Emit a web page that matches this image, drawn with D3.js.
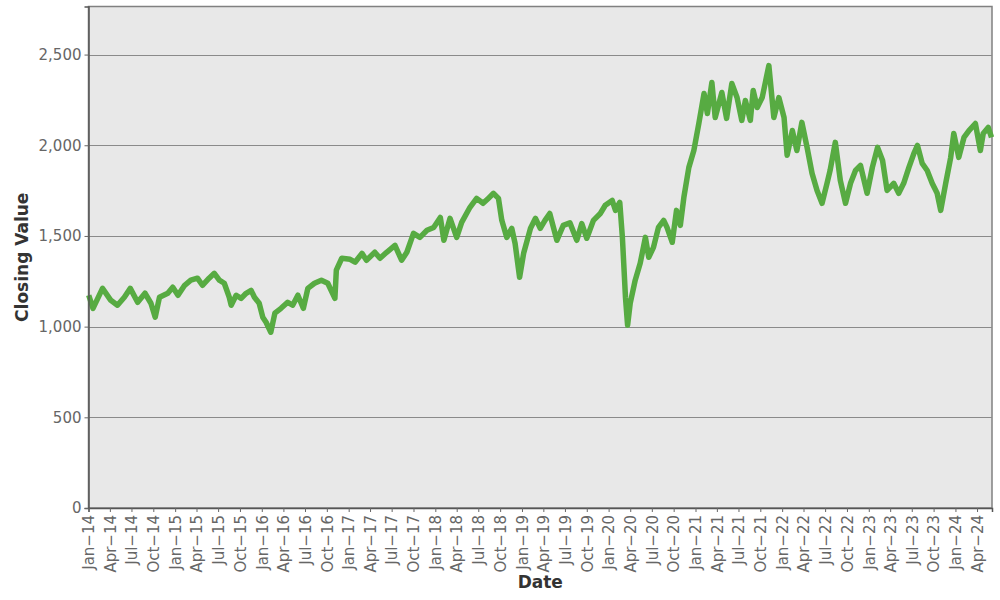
<!DOCTYPE html>
<html>
<head>
  <meta charset="UTF-8">
  <style>
      body{ margin: 0; background: #fff; }
      svg{ display: block; font-family: "DejaVu Sans", Verdana, sans-serif; }
  </style>
</head>
<body>
<svg></svg>
<script src="https://d3js.org/d3.v7.min.js"></script>

<script>

// closing values, roughly every 3 weeks plus the turning points
let dates = [
  "2014-01-02","2014-01-20","2014-03-01","2014-04-05","2014-05-03","2014-06-01","2014-06-26","2014-07-27",
  "2014-08-27","2014-09-21","2014-10-09","2014-10-27","2014-12-01","2014-12-22","2015-01-13","2015-02-10",
  "2015-03-08","2015-04-05","2015-04-26","2015-05-24","2015-06-15","2015-07-06","2015-07-27","2015-08-17",
  "2015-08-25","2015-09-15","2015-10-06","2015-10-27","2015-11-17","2015-12-01","2015-12-21","2016-01-05",
  "2016-01-19","2016-02-08","2016-02-25","2016-03-22","2016-04-19","2016-05-10","2016-06-01","2016-06-24",
  "2016-07-13","2016-08-10","2016-09-08","2016-10-05","2016-11-04","2016-11-10","2016-12-03","2017-01-07",
  "2017-01-28","2017-02-26","2017-03-17","2017-04-21","2017-05-13","2017-06-10","2017-07-15","2017-08-12",
  "2017-09-03","2017-10-01","2017-10-28","2017-11-27","2017-12-25","2018-01-22","2018-02-06","2018-03-04",
  "2018-04-01","2018-04-22","2018-05-27","2018-06-24","2018-07-21","2018-08-12","2018-09-03","2018-09-24",
  "2018-10-08","2018-10-29","2018-11-19","2018-12-03","2018-12-22","2019-01-08","2019-02-06","2019-02-27",
  "2019-03-19","2019-04-08","2019-04-28","2019-05-28","2019-06-24","2019-07-22","2019-08-20","2019-09-10",
  "2019-10-01","2019-10-29","2019-11-27","2019-12-18","2020-01-16","2020-01-30","2020-02-17","2020-02-28",
  "2020-03-12","2020-03-21","2020-04-01","2020-04-22","2020-05-13","2020-06-04","2020-06-18","2020-07-08",
  "2020-07-29","2020-08-20","2020-09-03","2020-09-25","2020-10-13","2020-10-29","2020-11-13","2020-12-04",
  "2020-12-25","2021-01-15","2021-02-06","2021-02-20","2021-03-11","2021-03-25","2021-04-22","2021-05-12",
  "2021-06-03","2021-06-25","2021-07-15","2021-07-30","2021-08-20","2021-09-01","2021-09-18","2021-10-09",
  "2021-11-06","2021-11-27","2021-12-18","2022-01-09","2022-01-22","2022-02-13","2022-03-04","2022-03-25",
  "2022-04-16","2022-05-07","2022-05-28","2022-06-18","2022-07-09","2022-07-22","2022-08-13","2022-09-03",
  "2022-09-25","2022-10-16","2022-11-06","2022-11-27","2022-12-25","2023-01-16","2023-02-07","2023-02-28",
  "2023-03-19","2023-04-16","2023-05-07","2023-05-28","2023-06-19","2023-07-10","2023-07-25","2023-08-14",
  "2023-09-04","2023-09-25","2023-10-16","2023-10-31","2023-11-21","2023-12-12","2023-12-25","2024-01-15",
  "2024-02-06","2024-02-27","2024-03-25","2024-04-15","2024-04-27","2024-05-18","2024-06-01"
];

let closing = [
  1173,1101,1211,1145,1118,1162,1211,1134,
  1184,1129,1052,1162,1184,1217,1173,1228,
  1256,1267,1228,1267,1294,1256,1239,1162,
  1118,1173,1156,1184,1200,1162,1129,1052,
  1024,969,1074,1101,1134,1118,1173,1101,
  1211,1239,1256,1239,1156,1311,1377,1371,
  1355,1404,1366,1410,1377,1410,1448,1366,
  1410,1514,1492,1531,1547,1602,1476,1597,
  1492,1575,1658,1707,1680,1707,1735,1707,
  1586,1492,1542,1459,1272,1404,1542,1597,
  1542,1586,1624,1476,1558,1572,1476,1568,
  1487,1586,1624,1669,1696,1641,1685,1492,
  1162,1008,1129,1256,1349,1492,1382,1437,
  1547,1586,1547,1465,1641,1558,1713,1878,
  1971,2120,2285,2175,2346,2153,2291,2148,
  2340,2263,2137,2247,2137,2302,2208,2263,
  2439,2153,2263,2153,1945,2081,1971,2126,
  1988,1845,1751,1680,1790,1861,2016,1806,
  1680,1790,1861,1889,1735,1878,1988,1916,
  1751,1790,1735,1790,1878,1955,1999,1900,
  1861,1790,1735,1641,1790,1933,2065,1933,
  2043,2081,2120,1971,2065,2098,2043
];

let yTicks = [0, 500, 1000, 1500, 2000, 2500];

let width = 1000, height = 600;
let plotLeft = 88.5, plotRight = 992, plotTop = 6.5, plotBottom = 508;

let svg = d3.select("svg")
    .attr("width", width)
    .attr("height", height);

let parse = d3.utcParse("%Y-%m-%d");
let series = dates.map((d, i) => ({date: parse(d), value: closing[i]}));

let x = d3.scaleUtc()
    .domain([parse("2014-01-01"), parse("2024-06-03")])
    .range([plotLeft, plotRight]);

let y = d3.scaleLinear()
    .domain([0, 2765])
    .range([plotBottom, plotTop]);

// plot background
svg.append("rect")
    .attr("x", plotLeft)
    .attr("y", plotTop)
    .attr("width", plotRight - plotLeft)
    .attr("height", plotBottom - plotTop)
    .attr("fill", "#e8e8e8")
    .attr("stroke", "#808080")
    .attr("stroke-width", 1.5);

// horizontal grid
svg.append("g")
    .selectAll("line")
    .data(yTicks.filter(d => d > 0))
    .enter()
    .append("line")
    .attr("x1", plotLeft)
    .attr("x2", plotRight)
    .attr("y1", d => Math.round(y(d)) + 0.5)
    .attr("y2", d => Math.round(y(d)) + 0.5)
    .attr("stroke", "#8a8a8a")
    .attr("stroke-width", 1);

// the line
let line = d3.line()
    .x(d => x(d.date))
    .y(d => y(d.value));

svg.append("path")
    .datum(series)
    .attr("fill", "none")
    .attr("stroke", "#57ab42")
    .attr("stroke-width", 5.5)
    .attr("stroke-linejoin", "round")
    .attr("d", line);

// y axis
let yAxis = svg.append("g")
    .attr("transform", "translate(" + plotLeft + ",0)")
    .call(d3.axisLeft(y).tickValues(yTicks).tickFormat(d3.format(",")).tickSize(4).tickPadding(3));

yAxis.select(".domain").attr("stroke", "#555").attr("stroke-width", 1.5);
yAxis.selectAll(".tick line").attr("stroke", "#666");
yAxis.selectAll("text")
    .attr("fill", "#666")
    .style("font-size", "15px")
    .style("font-family", "DejaVu Sans");

// x axis, quarterly ticks
let xAxis = svg.append("g")
    .attr("transform", "translate(0," + plotBottom + ")")
    .call(d3.axisBottom(x)
        .ticks(d3.utcMonth.every(3))
        .tickFormat(d3.utcFormat("%b\u2212%y"))
        .tickSize(4));

xAxis.select(".domain").attr("stroke", "#555").attr("stroke-width", 1.5);
xAxis.selectAll(".tick line").attr("stroke", "#666");
xAxis.selectAll("text")
    .attr("fill", "#666")
    .style("font-size", "15px")
    .style("font-family", "DejaVu Sans")
    .attr("text-anchor", "end")
    .attr("dy", "0.35em")
    .attr("transform", "translate(0,7) rotate(-90)")
    .attr("x", 0)
    .attr("y", 0);

// axis titles
svg.append("text")
    .attr("transform", "translate(28," + ((plotTop + plotBottom) / 2) + ") rotate(-90)")
    .attr("text-anchor", "middle")
    .attr("fill", "#333")
    .style("font-size", "17px")
    .style("font-weight", "bold")
    .text("Closing Value");

svg.append("text")
    .attr("x", (plotLeft + plotRight) / 2)
    .attr("y", 588)
    .attr("text-anchor", "middle")
    .attr("fill", "#333")
    .style("font-size", "17px")
    .style("font-weight", "bold")
    .text("Date");

</script>

</body>
</html>
